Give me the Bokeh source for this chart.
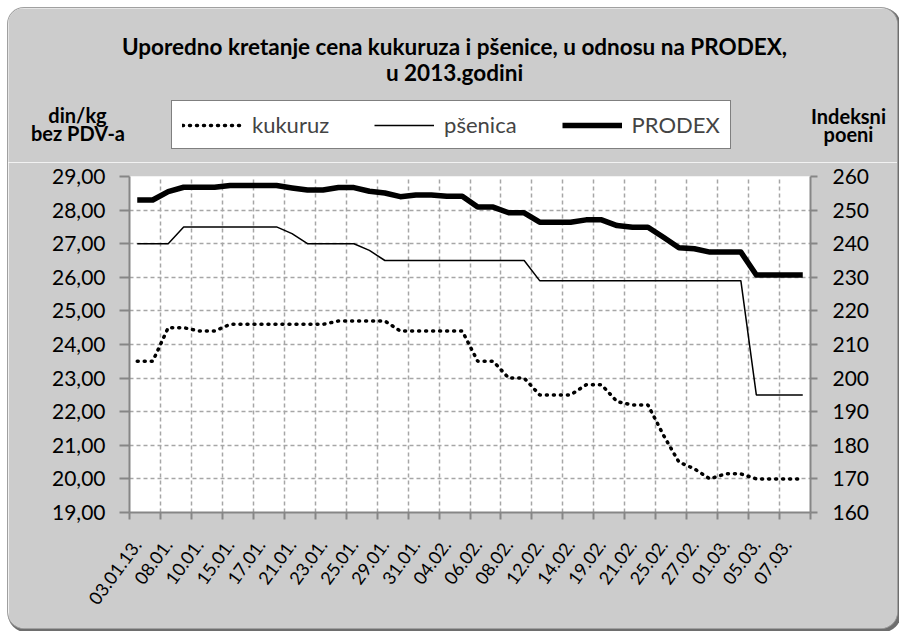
from bokeh.plotting import figure
from bokeh.layouts import column, row
from bokeh.models import (ColumnDataSource, Range1d, LinearAxis, FixedTicker,
                          Label, Legend, LegendItem)
from bokeh.embed import file_html
from bokeh.resources import INLINE

# ---- data ----
tick_labels = ["03.01.13.", "08.01.", "10.01.", "15.01.", "17.01.", "21.01.",
               "23.01.", "25.01.", "29.01.", "31.01.", "04.02.", "06.02.",
               "08.02.", "12.02.", "14.02.", "19.02.", "21.02.", "25.02.",
               "27.02.", "01.03.", "05.03.", "07.03."]

kukuruz = [23.5, 23.5, 24.5, 24.5, 24.4, 24.4, 24.6, 24.6, 24.6, 24.6,
           24.6, 24.6, 24.6, 24.7, 24.7, 24.7, 24.7, 24.4, 24.4, 24.4,
           24.4, 24.4, 23.5, 23.5, 23.0, 23.0, 22.5, 22.5, 22.5, 22.8,
           22.8, 22.3, 22.2, 22.2, 21.3, 20.5, 20.3, 20.0, 20.15, 20.15,
           20.0, 20.0, 20.0, 20.0]

psenica = [27.0, 27.0, 27.0, 27.5, 27.5, 27.5, 27.5, 27.5, 27.5, 27.5,
           27.3, 27.0, 27.0, 27.0, 27.0, 26.8, 26.5, 26.5, 26.5, 26.5,
           26.5, 26.5, 26.5, 26.5, 26.5, 26.5, 25.9, 25.9, 25.9, 25.9,
           25.9, 25.9, 25.9, 25.9, 25.9, 25.9, 25.9, 25.9, 25.9, 25.9,
           22.5, 22.5, 22.5, 22.5]

prodex = [253.0, 253.0, 255.5, 256.8, 256.8, 256.8, 257.3, 257.3, 257.3, 257.3,
          256.6, 256.0, 256.0, 256.7, 256.7, 255.6, 255.1, 254.0, 254.5, 254.5,
          254.1, 254.1, 250.9, 250.9, 249.2, 249.2, 246.4, 246.4, 246.4, 247.1,
          247.1, 245.4, 244.9, 244.9, 241.9, 238.8, 238.5, 237.5, 237.5, 237.5,
          230.7, 230.7, 230.7, 230.7]

left_ticks = [19, 20, 21, 22, 23, 24, 25, 26, 27, 28, 29]
right_ticks = [160, 170, 180, 190, 200, 210, 220, 230, 240, 250, 260]

title_lines = ["Uporedno kretanje cena kukuruza i pšenice, u odnosu na PRODEX,",
               "u 2013.godini"]
left_title = ["din/kg", "bez PDV-a"]
right_title = ["Indeksni", "poeni"]
series_names = ["kukuruz", "pšenica", "PRODEX"]

# ---- styling constants ----
FONT = "Lato"
GRAY_AX = "#868686"
BG = "#CCCCCC"
W = 889
HEAD_H = 154
MAIN_H = 466

n = len(kukuruz)
step = n // len(tick_labels)
xs = [i + 0.5 for i in range(n)]
src = ColumnDataSource(dict(x=xs, k=kukuruz, p=psenica, d=prodex))

# ---------------- main chart ----------------
p = figure(width=W, height=MAIN_H, x_range=Range1d(0, n),
           y_range=Range1d(left_ticks[0], left_ticks[-1]),
           output_backend="svg", toolbar_location=None,
           min_border_left=121, min_border_right=87,
           min_border_top=14, min_border_bottom=116)
p.extra_y_ranges = {"idx": Range1d(right_ticks[0], right_ticks[-1])}
p.background_fill_color = "white"
p.border_fill_color = BG
p.outline_line_color = None

def style_y(ax, tick_out, standoff):
    ax.axis_line_color = GRAY_AX
    ax.axis_line_width = 2
    ax.major_tick_line_color = GRAY_AX
    ax.major_tick_line_width = 2
    ax.major_tick_out = tick_out
    ax.major_tick_in = 0
    ax.minor_tick_line_color = None
    ax.major_label_standoff = standoff
    ax.major_label_text_font = FONT
    ax.major_label_text_font_size = "21px"
    ax.major_label_text_color = "black"

ya = p.yaxis[0]
ya.ticker = FixedTicker(ticks=left_ticks)
ya.major_label_overrides = {t: f"{t:.2f}".replace(".", ",") for t in left_ticks}
style_y(ya, 10, 14)

ra = LinearAxis(y_range_name="idx", ticker=FixedTicker(ticks=right_ticks))
style_y(ra, 7, 15)
p.add_layout(ra, "right")

# bottom axis: labels at every second category, tick marks between groups
bounds = list(range(0, n + 1, step))
label_pos = [i * step + 0.5 for i in range(len(tick_labels))]
xticker = FixedTicker(ticks=label_pos, minor_ticks=bounds)
xa = p.xaxis[0]
xa.ticker = xticker
xa.major_label_overrides = {pos: lab for pos, lab in zip(label_pos, tick_labels)}
xa.axis_line_color = GRAY_AX
xa.axis_line_width = 2
xa.major_tick_line_color = None
xa.major_tick_out = 0
xa.major_tick_in = 0
xa.minor_tick_line_color = GRAY_AX
xa.minor_tick_line_width = 2
xa.minor_tick_out = 7
xa.minor_tick_in = 0
xa.major_label_orientation = 0.94
xa.major_label_standoff = 22
xa.major_label_text_font = FONT
xa.major_label_text_font_size = "18px"
xa.major_label_text_color = "black"

# grids
xg = p.xgrid[0]
xg.ticker = xticker
xg.grid_line_color = None
xg.minor_grid_line_color = "#A6A6A6"
xg.minor_grid_line_dash = "4 3"
xg.minor_grid_line_width = 1.5
yg = p.ygrid[0]
yg.ticker = FixedTicker(ticks=left_ticks)
yg.grid_line_color = "#A6A6A6"
yg.grid_line_dash = "4 3"
yg.grid_line_width = 1.5

# series
K_STYLE = dict(line_color="black", line_width=3.5, line_dash="1 6", line_cap="round")
P_STYLE = dict(line_color="black", line_width=1.5)
D_STYLE = dict(line_color="black", line_width=5.5, line_join="round")
p.line("x", "k", source=src, **K_STYLE)
p.line("x", "p", source=src, **P_STYLE)
p.line("x", "d", source=src, y_range_name="idx", **D_STYLE)

# ---------------- header (titles + legend) ----------------
h = figure(width=W, height=HEAD_H, x_range=Range1d(0, W), y_range=Range1d(0, HEAD_H),
           output_backend="svg", toolbar_location=None,
           x_axis_type=None, y_axis_type=None, min_border=0)
h.background_fill_color = BG
h.border_fill_color = BG
h.outline_line_color = None
h.grid.visible = False

def add_label(txt, x, y, size, bold=True):
    h.add_layout(Label(x=x, y=y, text=txt, text_align="center",
                       text_baseline="middle", text_font=FONT,
                       text_font_size=size,
                       text_font_style="bold" if bold else "normal",
                       text_color="black"))

add_label(title_lines[0], 446, 116, "22.5px")
add_label(title_lines[1], 446, 90, "22.5px")
add_label(left_title[0], 69, 48, "20px")
add_label(left_title[1], 69.5, 30, "20px")
add_label(right_title[0], 840, 47, "20px")
add_label(right_title[1], 840, 29, "20px")

# legend keys (same styles as the series; no visible data in the header)
nan = float("nan")
lk = h.line([nan], [nan], **K_STYLE)
lp = h.line([nan], [nan], **P_STYLE)
ld = h.line([nan], [nan], **D_STYLE)
legend = Legend(items=[LegendItem(label=series_names[0], renderers=[lk]),
                       LegendItem(label=series_names[1], renderers=[lp]),
                       LegendItem(label=series_names[2], renderers=[ld])],
                orientation="horizontal", location=(163, 13),
                border_line_color="black", border_line_width=1.5,
                background_fill_color="white", background_fill_alpha=1,
                padding=10, spacing=45, glyph_width=60, glyph_height=20,
                label_standoff=10, label_text_font=FONT,
                label_text_font_size="22px", label_height=20, margin=0)
h.add_layout(legend, "center")

layout = column(row(h), row(p), spacing=0)
layout.margin = (8, 0, 0, 8)
layout.styles = {"border-radius": "16px", "overflow": "hidden",
                 "box-shadow": "0 0 0 1px #a0a0a0, 2px 2px 0 2px #6e6e6e"}

open("out.html", "w").write(file_html(layout, INLINE))
